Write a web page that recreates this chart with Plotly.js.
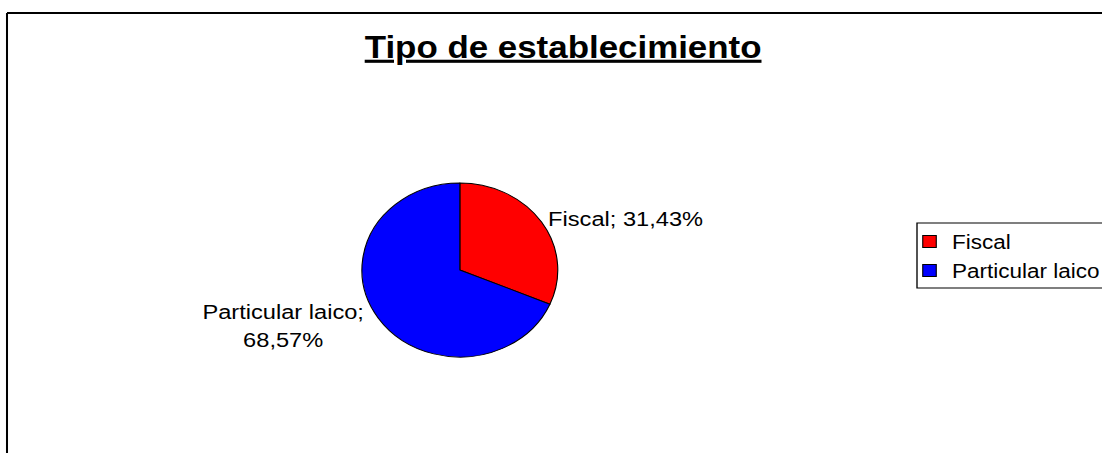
<!DOCTYPE html>
<html>
<head>
<meta charset="utf-8">
<script src="https://cdn.plot.ly/plotly-3.0.1.min.js"></script>
<style>
  html, body { margin: 0; padding: 0; background: #ffffff; overflow: hidden; }
  #wrap { width: 1102px; height: 453px; overflow: hidden; }
  #chart { width: 979px; height: 453px; transform: scaleX(1.1256); transform-origin: 0 0; }
</style>
</head>
<body>
<div id="wrap"><div id="chart"></div></div>
<script>
const categories = ["Fiscal", "Particular laico"];
const counts = [11, 24];
const sliceColors = ["#FF0000", "#0000FF"];
const labelTemplates = ["%{label}; %{percent:.2%}", "%{label};<br>%{percent:.2%}"];
const chartTitle = "Tipo de establecimiento";

const FONT = "Arial, 'Liberation Sans', sans-serif";
const SX = 1.1256;
const W = 979, H = 453;
const px = x => (x / SX) / W;   // screen x -> paper x
const py = y => 1 - y / H;      // screen y -> paper y

const trace = {
  type: "pie",
  labels: categories,
  values: counts,
  sort: false,
  direction: "clockwise",
  rotation: 0,
  marker: { colors: sliceColors, line: { color: "#000000", width: 1 } },
  texttemplate: labelTemplates,
  textposition: "outside",
  textfont: { family: FONT, size: 21, color: "#000000" },
  outsidetextfont: { family: FONT, size: 21, color: "#000000" },
  hoverinfo: "label+percent",
  domain: { x: [0.3284, 0.5062], y: [0.2119, 0.596] },
  automargin: false
};

const layout = {
  width: W,
  height: H,
  margin: { l: 0, r: 0, t: 0, b: 0, autoexpand: false },
  paper_bgcolor: "#ffffff",
  plot_bgcolor: "#ffffff",
  separators: ",.",
  font: { family: FONT, color: "#000000" },
  title: {
    text: "<b><u>" + chartTitle + "</u></b>",
    font: { family: FONT, size: 31, color: "#000000" },
    x: 0.511, xanchor: "center", xref: "paper",
    y: 1 - 47 / H, yanchor: "middle", yref: "container"
  },
  showlegend: true,
  legend: {
    x: px(907), xanchor: "left",
    y: py(222), yanchor: "top",
    borderwidth: 0,
    bgcolor: "rgba(0,0,0,0)",
    font: { family: FONT, size: 20, color: "#000000" },
    traceorder: "normal"
  },
  shapes: [
    { type: "line", xref: "paper", yref: "paper",
      x0: px(7), x1: px(1110), y0: py(13), y1: py(13),
      line: { color: "#000000", width: 1.8 }, layer: "below" },
    { type: "line", xref: "paper", yref: "paper",
      x0: px(7), x1: px(7), y0: py(13), y1: py(470),
      line: { color: "#000000", width: 1.8 }, layer: "below" },
    { type: "rect", xref: "paper", yref: "paper",
      x0: px(917), x1: px(1120), y0: py(288), y1: py(223),
      line: { color: "#000000", width: 1.2 }, layer: "below" }
  ]
};

Plotly.newPlot("chart", [trace], layout, { displayModeBar: false, staticPlot: true });
</script>
</body>
</html>
